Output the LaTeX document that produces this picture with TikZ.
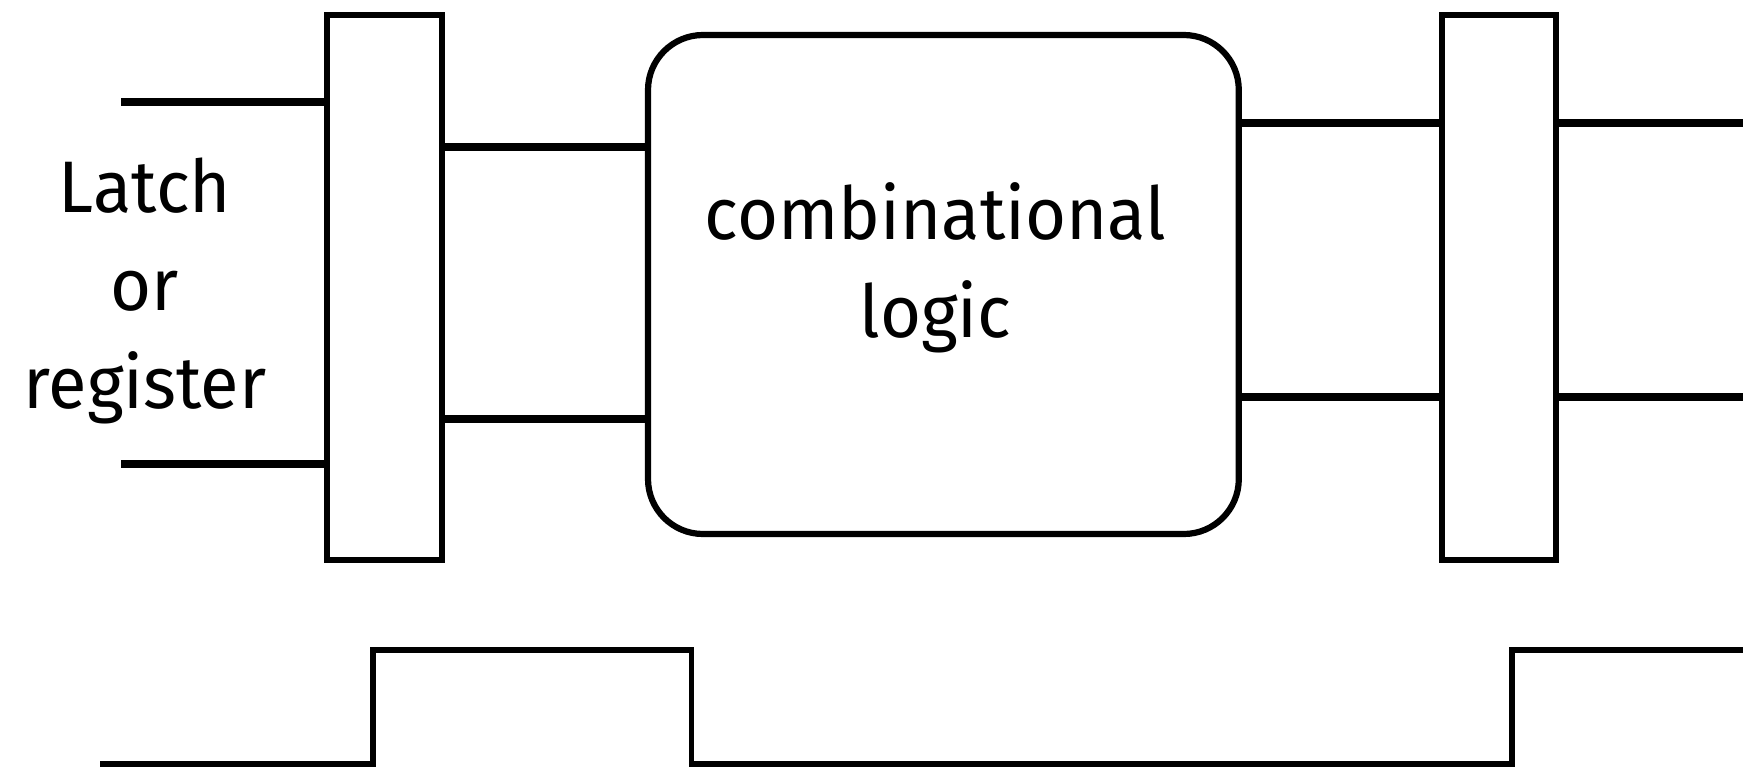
\documentclass[tikz,border=0pt]{standalone}
\usepackage{fontspec}
\setmainfont{Fira Sans}[FakeStretch=0.965]
\begin{document}
\begin{tikzpicture}[x=1pt,y=-1pt,
  regbox/.style={draw,line width=6pt,rectangle,inner sep=0pt,outer sep=0pt,
    minimum width=114.7pt,minimum height=545pt},
  logicbox/.style={draw,line width=6.2pt,rectangle,rounded corners=55pt,inner sep=0pt,
    outer sep=0pt,minimum width=590.8pt,minimum height=499pt},
  wire/.style={line width=8pt},
  clockline/.style={line width=5.5pt,line join=miter},
  lbl/.style={anchor=base,inner sep=0pt,font=\fontsize{73}{98}\selectfont}]
\useasboundingbox (0,0) rectangle (1743,768);

% registers and the logic block between them
\node[regbox] (regL) at (384.35,287.5) {};
\node[regbox] (regR) at (1499,287.5) {};
\node[logicbox] (comb) at (943.4,284.5) {};

% labels
\node[lbl] (lt1) at (145,212) {Latch};
\node[lbl] (lt2) at (145,310) {or};
\node[lbl] (lt3) at (145,408) {register};
\node[lbl] (cl1) at (935.5,239.5) {combinational};
\node[lbl] (cl2) at (935.5,337) {logic};

% wire heights and free ends
\coordinate (inA) at (121,101.7);
\coordinate (inB) at (121,464);
\coordinate (mA) at (0,146.7);
\coordinate (mB) at (0,418.5);
\coordinate (oA) at (0,123.3);
\coordinate (oB) at (0,397);
\coordinate (endA) at (1743,123.3);
\coordinate (endB) at (1743,397);

% wires
\draw[wire] (inA) -- (inA -| regL.west);
\draw[wire] (inB) -- (inB -| regL.west);
\draw[wire] (regL.east |- mA) -- (comb.west |- mA);
\draw[wire] (regL.east |- mB) -- (comb.west |- mB);
\draw[wire] (comb.east |- oA) -- (regR.west |- oA);
\draw[wire] (comb.east |- oB) -- (regR.west |- oB);
\draw[wire] (regR.east |- endA) -- (endA);
\draw[wire] (regR.east |- endB) -- (endB);

% clock waveform
\coordinate (ck0) at (100,764);
\coordinate (ck1) at (373,764);
\coordinate (ck2) at (373,650);
\coordinate (ck3) at (691.5,650);
\coordinate (ck4) at (691.5,764);
\coordinate (ck5) at (1512,764);
\coordinate (ck6) at (1512,650);
\coordinate (ck7) at (1743,650);
\draw[clockline] (ck0) -- (ck1) -- (ck2) -- (ck3) -- (ck4) -- (ck5) -- (ck6) -- (ck7);
\end{tikzpicture}
\end{document}
